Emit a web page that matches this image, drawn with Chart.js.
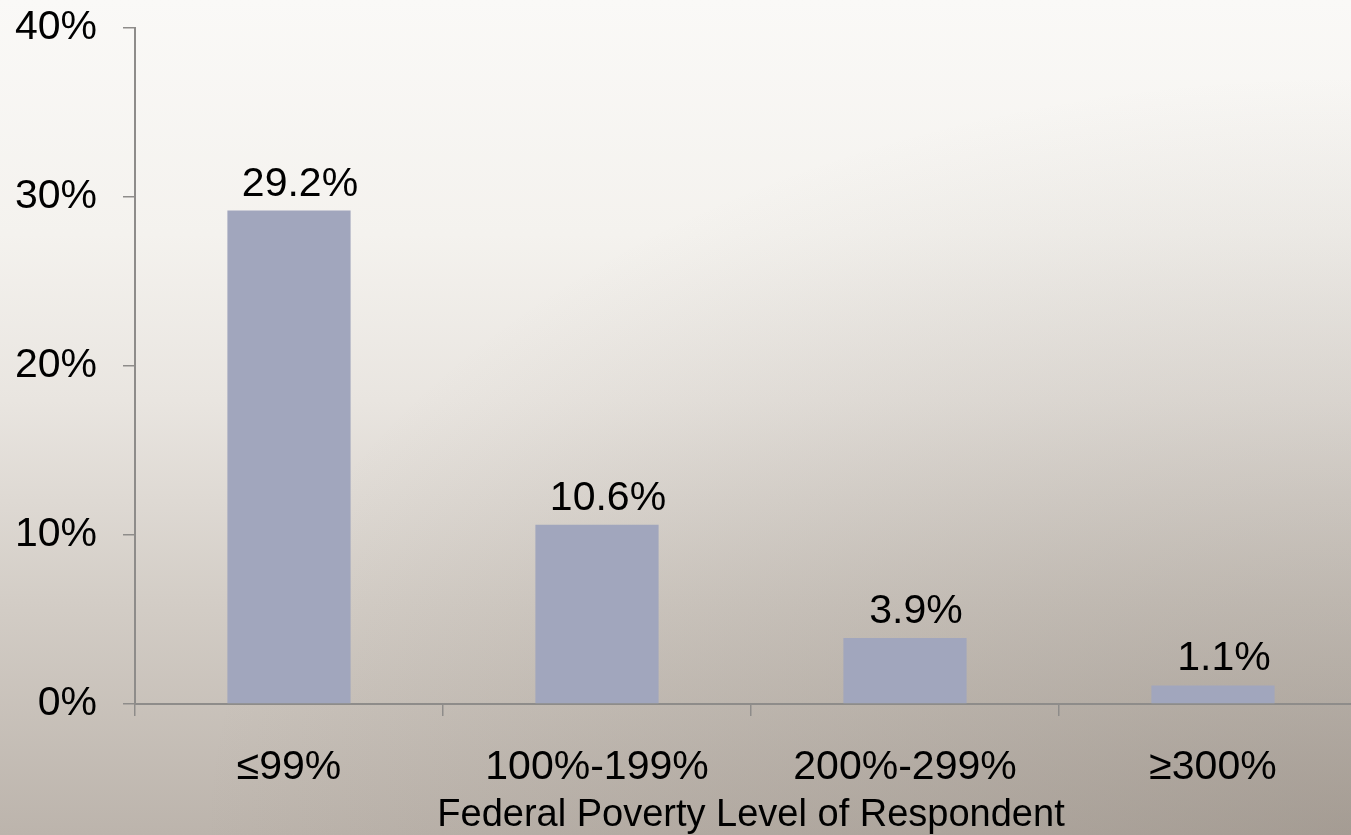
<!DOCTYPE html>
<html>
<head>
<meta charset="utf-8">
<script src="https://cdn.jsdelivr.net/npm/chart.js@4"></script>
<style>
  html, body {
    margin: 0;
    padding: 0;
    overflow: hidden;
    width: 1351px;
    height: 835px;
  }
  body {
    background:
      radial-gradient(ellipse 1150px 760px at 100% 100%, rgba(115, 105, 95, 0.32), rgba(115, 105, 95, 0) 100%),
      linear-gradient(to bottom, #faf9f7 0%, #f4f2ee 28%, #e9e5e0 48%, #d3cdc6 72%, #bcb4ac 100%);
  }
  #wrap {
    position: relative;
    width: 1372px;
    height: 835px;
  }
</style>
</head>
<body>
<div id="wrap"><canvas id="pobreza"></canvas></div>
<script>
// Categorías y valores de la gráfica
const categorias = ["≤99%", "100%-199%", "200%-299%", "≥300%"];
const valores = [29.2, 10.6, 3.9, 1.1];
const ticksY = [0, 10, 20, 30, 40];
const tituloX = "Federal Poverty Level of Respondent";

const fuente = "'Liberation Sans', Arial, sans-serif";
const grisEje = "#8e8c8a";

// Etiquetas encima de cada barra
const etiquetasBarras = {
    id: "etiquetasBarras",
    afterDatasetsDraw(chart) {
        const ctx = chart.ctx;
        const meta = chart.getDatasetMeta(0);
        ctx.save();
        ctx.font = "41px " + fuente;
        ctx.fillStyle = "#000";
        ctx.textAlign = "center";
        ctx.textBaseline = "alphabetic";
        meta.data.forEach((barra, i) => {
            ctx.fillText(valores[i].toFixed(1) + "%", barra.x + 11, barra.y - 15);
        });
        ctx.restore();
    }
};

const ctx = document.getElementById("pobreza").getContext("2d");

const grafica = new Chart(ctx, {
    type: "bar",
    data: {
        labels: categorias,
        datasets: [{
            data: valores,
            backgroundColor: "#a1a6bd",
            borderWidth: 0,
            barPercentage: 0.4,
            categoryPercentage: 1
        }]
    },
    options: {
        responsive: true,
        maintainAspectRatio: false,
        animation: false,
        layout: {
            padding: { top: 28, right: 5, bottom: 0, left: 0 }
        },
        plugins: {
            legend: { display: false },
            tooltip: { enabled: false }
        },
        scales: {
            x: {
                afterFit(escala) {
                    escala.height = 131;
                    escala.paddingLeft = 0;
                    escala.paddingRight = 0;
                },
                grid: {
                    display: true,
                    drawOnChartArea: false,
                    drawTicks: true,
                    tickLength: 12,
                    color: grisEje,
                    lineWidth: 1.5,
                    offset: true
                },
                border: { display: true, color: grisEje, width: 2 },
                ticks: {
                    color: "#000",
                    padding: 27,
                    font: { family: fuente, size: 41, lineHeight: 1.2 }
                },
                title: {
                    display: true,
                    text: tituloX,
                    color: "#000",
                    padding: { top: 0, bottom: 0 },
                    font: { family: fuente, size: 38, lineHeight: 1.0 }
                }
            },
            y: {
                min: 0,
                max: 40,
                afterFit(escala) {
                    escala.width = 135;
                    escala.paddingTop = 0;
                    escala.paddingBottom = 0;
                },
                afterBuildTicks(escala) {
                    escala.ticks = ticksY.map(v => ({ value: v }));
                },
                grid: {
                    display: true,
                    drawOnChartArea: false,
                    drawTicks: true,
                    tickLength: 12,
                    color: grisEje,
                    lineWidth: 1.5
                },
                border: { display: true, color: grisEje, width: 2 },
                ticks: {
                    color: "#000",
                    padding: 26,
                    font: { family: fuente, size: 41 },
                    callback: v => v + "%"
                }
            }
        }
    },
    plugins: [etiquetasBarras]
});
</script>
</body>
</html>
